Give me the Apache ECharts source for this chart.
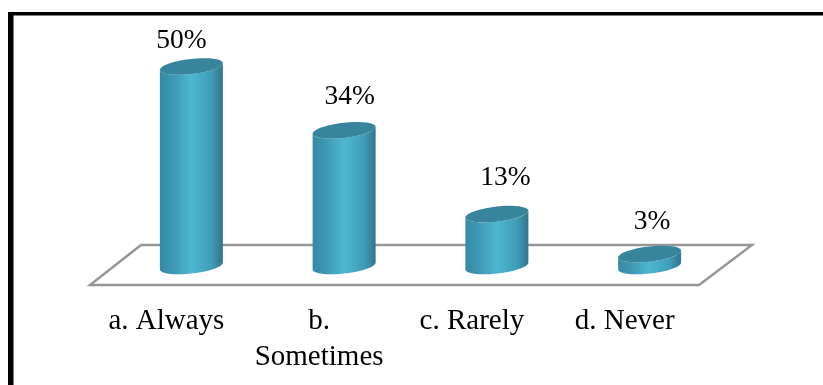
<!DOCTYPE html>
<html>
<head>
<meta charset="utf-8">
<style>html,body{margin:0;padding:0;background:#fff}#c{width:823px;height:385px}</style>
<script src="https://cdn.jsdelivr.net/npm/echarts@6/dist/echarts.min.js"></script>
</head>
<body>
<div id="c"></div>
<script>
const categories = ['a. Always', 'b.\nSometimes', 'c. Rarely', 'd. Never'];
const percentages = [50, 34, 13, 3];
const FONT = '"Liberation Serif", "Times New Roman", serif';

const chart = echarts.init(document.getElementById('c'), null, {renderer: 'canvas'});

// Tilted ellipse used for every cylinder cap: wide, with a slight rise to the right.
const RX = 31.5, RY = 7.6, TILT = 3.4;
function ellipsePoint(cx, cy, t) {
  return [cx + RX * Math.cos(t), cy + RY * Math.sin(t) - TILT * Math.cos(t)];
}
function arc(cx, cy, from, to) {
  const pts = [];
  for (let i = 0; i <= 40; i++) pts.push(ellipsePoint(cx, cy, from + (to - from) * i / 40));
  return pts;
}

// Hand-placed value labels sit at individual offsets from each cylinder's top.
const labelOffsets = [[-10, -25.5], [5.5, -33.5], [8.5, -36.5], [2.5, -32.5]];

function renderCylinder(params, api) {
  const idx = api.value(0);
  const v = api.value(1);
  const base = api.coord([idx, 0]);
  const top = api.coord([idx, v]);
  const cx = base[0];
  const body = arc(cx, top[1], Math.PI, 0).concat(arc(cx, base[1], 0, Math.PI));
  const side = new echarts.graphic.LinearGradient(0, 0, 1, 0, [
    {offset: 0, color: '#338aa5'},
    {offset: 0.18, color: '#3d95b0'},
    {offset: 0.5, color: '#4db7d2'},
    {offset: 0.82, color: '#3f9cb7'},
    {offset: 1, color: '#30758d'}
  ]);
  const off = labelOffsets[idx];
  return {
    type: 'group',
    children: [
      {type: 'polygon', shape: {points: body}, style: {fill: side}},
      {type: 'polygon', shape: {points: arc(cx, top[1], 0, Math.PI * 2)}, style: {fill: '#37849d'}},
      {type: 'text', style: {
        x: cx + off[0], y: top[1] + off[1], text: v + '%', fill: '#000',
        font: '27.5px ' + FONT, align: 'center', verticalAlign: 'middle'
      }}
    ]
  };
}

// Grey floor parallelogram under the cylinders, placed relative to the plot area.
function renderFloor(params, api) {
  const g = params.coordSys;
  const bottom = g.y + g.height;
  const left = g.x, right = g.x + g.width;
  return {
    type: 'polygon',
    shape: {points: [
      [left - 25, bottom + 19], [left + 26, bottom - 21],
      [right + 26, bottom - 21], [right - 27, bottom + 19]
    ]},
    style: {fill: 'none', stroke: '#969696', lineWidth: 2.4},
    silent: true
  };
}

chart.setOption({
  animation: false,
  backgroundColor: '#fff',
  grid: {left: 115, right: 97, top: 66.5, bottom: 119},
  xAxis: {
    type: 'category',
    data: categories,
    axisLine: {show: false},
    axisTick: {show: false},
    axisLabel: {
      color: '#000', fontFamily: FONT, fontSize: 29, lineHeight: 36,
      margin: 37, interval: 0, verticalAlign: 'top', padding: [0, 50, 0, 0]
    }
  },
  yAxis: {type: 'value', min: 0, max: 50, show: false},
  graphic: [
    // Frame: only the top and left rules are present.
    {type: 'rect', silent: true, z: 100, shape: {x: 8, y: 12, width: 815, height: 3.5}, style: {fill: '#000'}},
    {type: 'rect', silent: true, z: 100, shape: {x: 8, y: 12, width: 5.5, height: 373}, style: {fill: '#000'}}
  ],
  series: [
    {type: 'custom', renderItem: renderFloor, data: [[0, 0]], z: 1, silent: true},
    {type: 'custom', renderItem: renderCylinder, data: percentages.map((p, i) => [i, p]), z: 2, silent: true}
  ]
});
</script>
</body>
</html>
